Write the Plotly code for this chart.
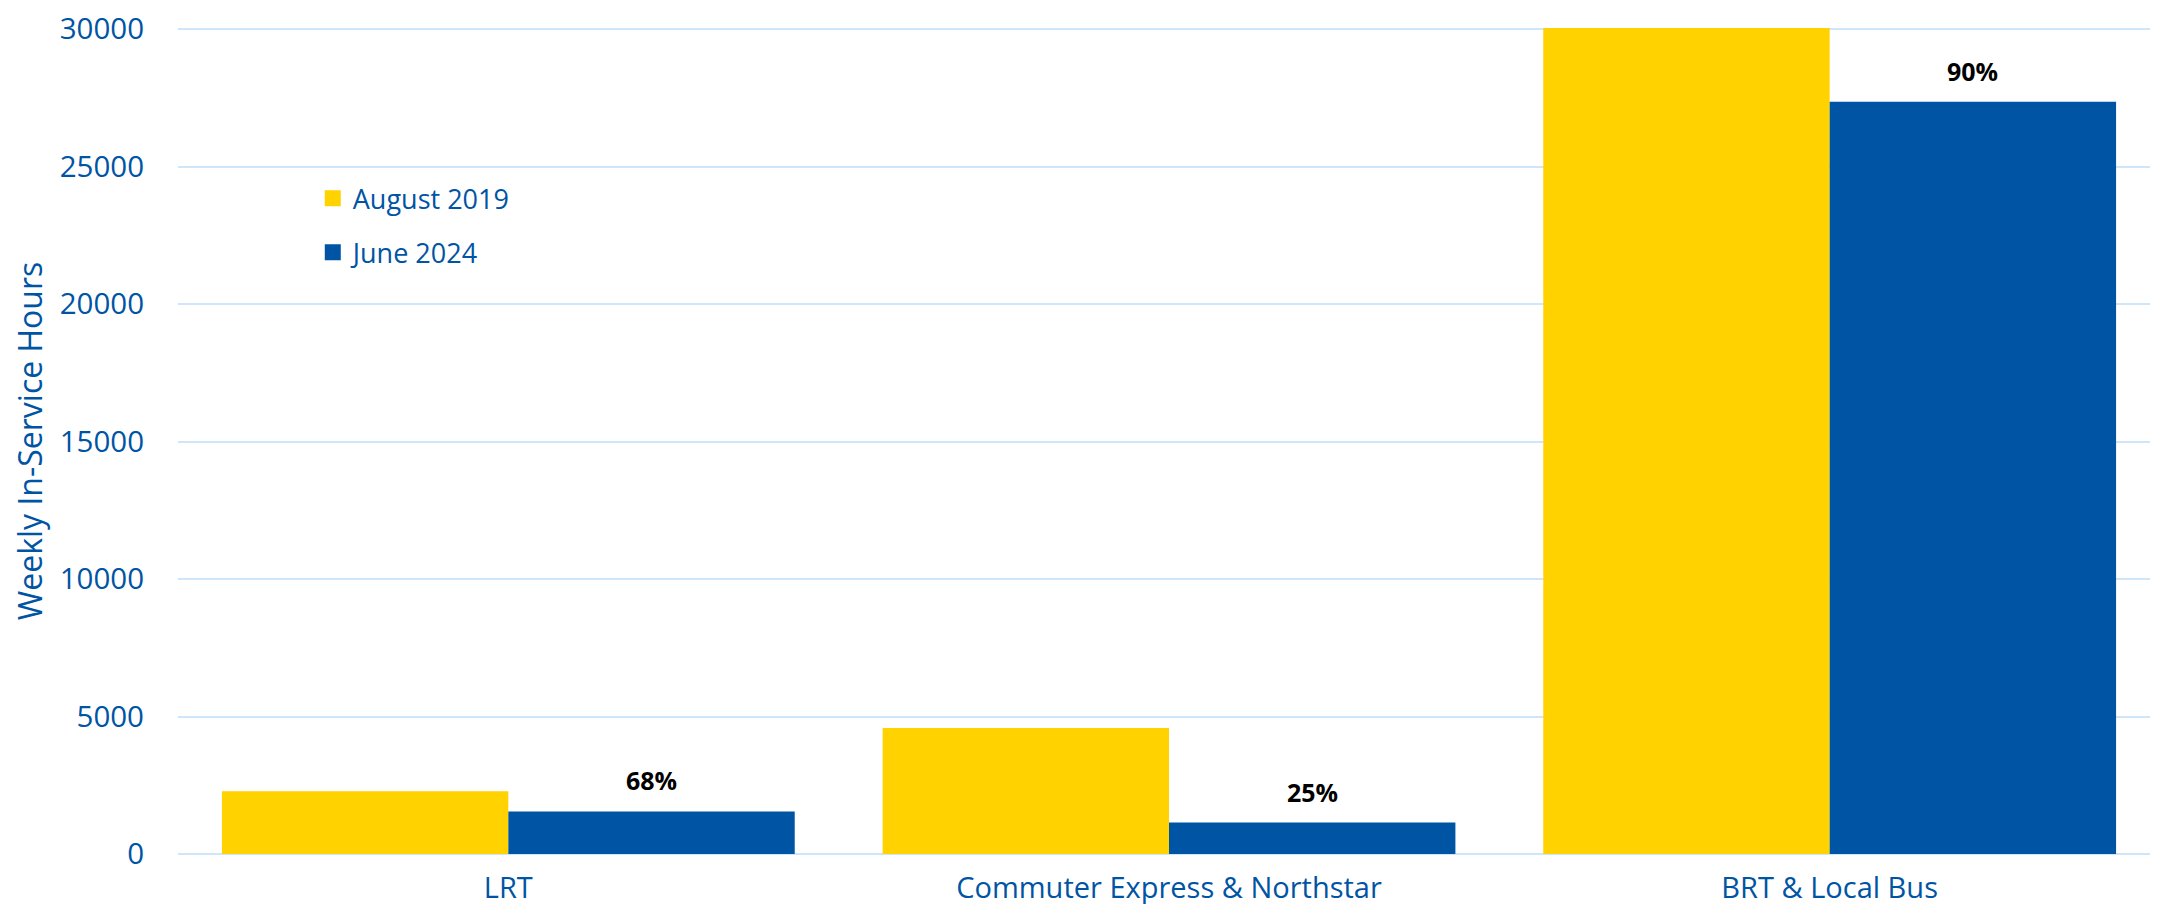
import plotly.graph_objects as go

# Weekly in-service hours by mode
categories = ['LRT', 'Commuter Express & Northstar', 'BRT & Local Bus']
aug_2019 = [2280, 4580, 30400]
jun_2024 = [1550, 1145, 27360]
pct_labels = ['68%', '25%', '90%']
y_ticks = [0, 5000, 10000, 15000, 20000, 25000, 30000]

BLUE = '#0054A4'
YELLOW = '#FFD200'
GRID = '#CFE6FA'
FONT = 'Open Sans'
BARGAP = 0.133

fig = go.Figure()

series = [('August 2019', aug_2019, YELLOW), ('June 2024', jun_2024, BLUE)]
for name, vals, color in series:
    fig.add_trace(go.Bar(
        x=categories,
        y=vals,
        name=name,
        marker_color=color,
        marker_line_width=0,
        showlegend=False,
    ))

# legend entries drawn as squares (bar legend icons are too small)
for i, (name, vals, color) in enumerate(series):
    fig.add_trace(go.Scatter(
        x=[None],
        y=[None],
        mode='markers',
        name=name,
        marker=dict(symbol='square', size=18, color=color),
        legendgroup=str(i),
    ))

# percentage labels above the June 2024 bars
bar_w = (1 - BARGAP) / 2
for i, (val, txt) in enumerate(zip(jun_2024, pct_labels)):
    fig.add_annotation(
        x=i + bar_w / 2,
        y=val,
        xref='x',
        yref='y',
        text=f'<b>{txt}</b>',
        showarrow=False,
        yshift=31,
        yanchor='middle',
        font=dict(family=FONT, size=25, color='black'),
    )

fig.update_layout(
    width=2158,
    height=904,
    barmode='group',
    bargap=BARGAP,
    bargroupgap=0,
    plot_bgcolor='white',
    paper_bgcolor='white',
    margin=dict(l=170, r=6, t=20, b=58),
    font=dict(family=FONT, size=27, color=BLUE),
    showlegend=True,
    legend=dict(
        x=0.068,
        y=0.823,
        xanchor='left',
        yanchor='top',
        bgcolor='rgba(0,0,0,0)',
        font=dict(family=FONT, size=27, color=BLUE),
        tracegroupgap=16,
        traceorder='grouped',
        itemsizing='trace',
    ),
)

fig.update_xaxes(
    type='category',
    automargin=False,
    showgrid=False,
    showline=False,
    ticks='',
    ticklabelstandoff=14,
    tickfont=dict(family=FONT, size=29, color=BLUE),
)

# top of range nudged a hair above 30000 so its gridline is kept
fig.update_yaxes(
    range=[0, 30040],
    automargin=False,
    tickvals=y_ticks,
    ticktext=[str(v) for v in y_ticks],
    ticklabeloverflow='allow',
    showgrid=True,
    gridcolor=GRID,
    gridwidth=2,
    zeroline=True,
    zerolinecolor=GRID,
    zerolinewidth=2,
    showline=False,
    ticks='',
    ticklabelstandoff=33,
    tickfont=dict(family=FONT, size=29.5, color=BLUE),
    title=dict(text='Weekly In-Service Hours', standoff=10,
               font=dict(family=FONT, size=32, color=BLUE)),
)

fig.write_html("out.html")
